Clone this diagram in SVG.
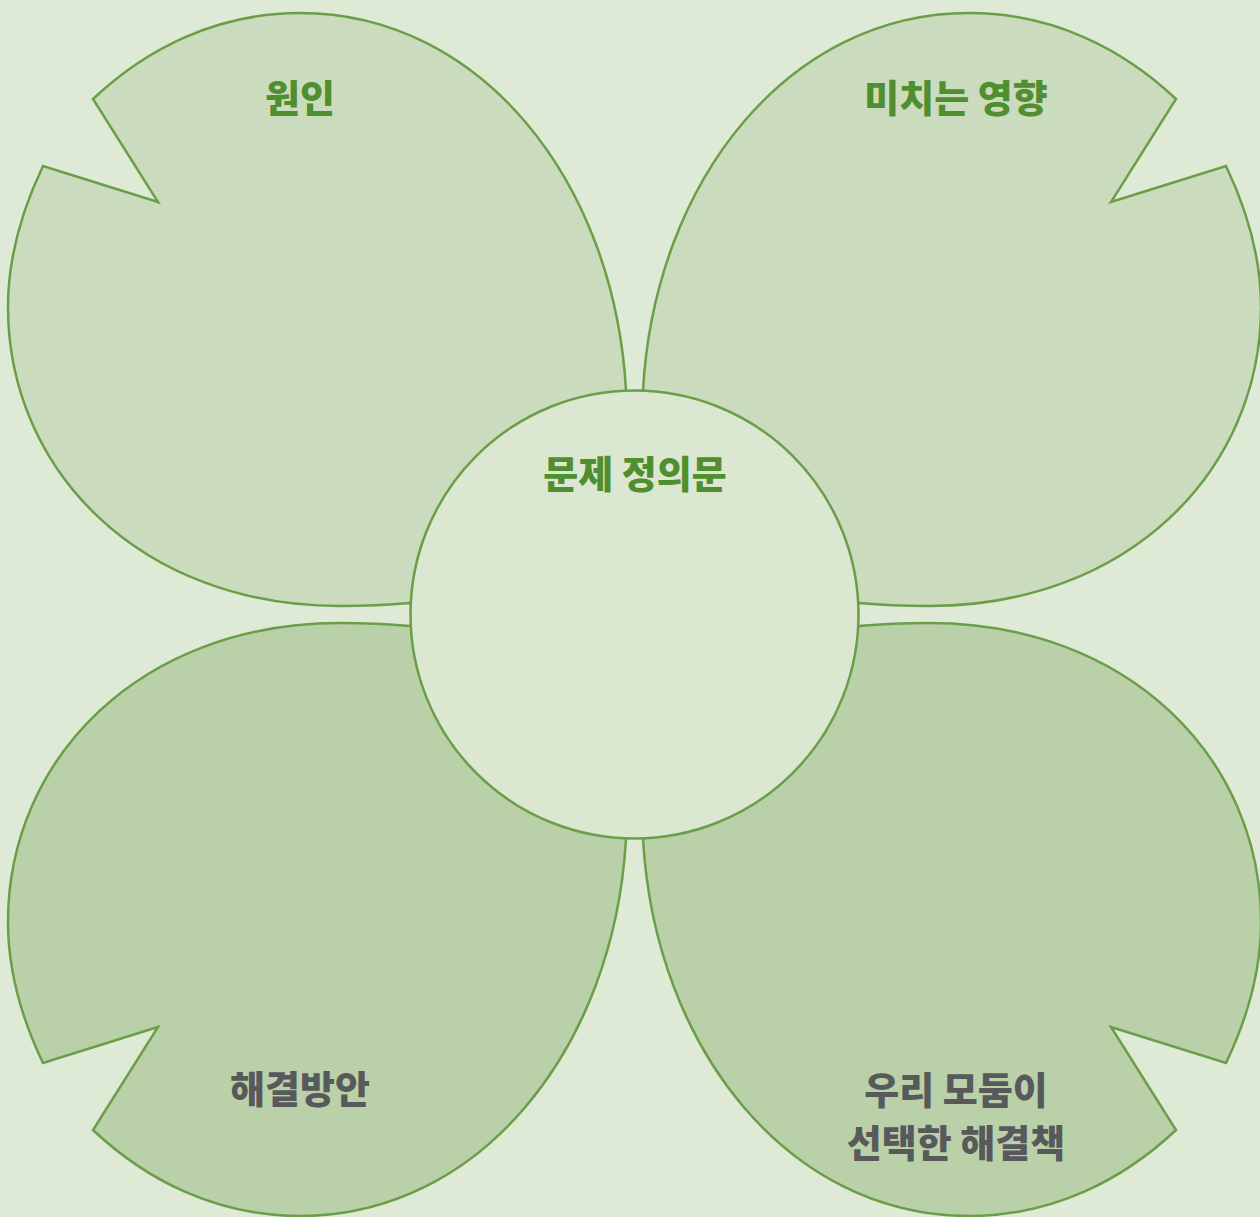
<svg xmlns="http://www.w3.org/2000/svg" width="1260" height="1217" viewBox="0 0 1260 1217">
<style>
.petal{stroke:#6a9e48;stroke-width:2.5;stroke-linejoin:miter}
.top{fill:#cbdcbe}
.bot{fill:#b9d0a9}
.t{font-family:"Noto Sans CJK KR","Noto Sans",sans-serif;font-weight:900;font-size:38px;text-anchor:middle}
.g{fill:#4f8f2f}
.d{fill:#58595b}
</style>
<defs>
<path id="petal" d="M 626,390 C 614,180 480,13 300,13 C 215,13 145,50 93,99 L 158,202 L 43,166 C 22,210 8,258 8,307 C 8,470 140,606 340,606 C 365,606 388,605 410,603 L 634,614 Z"/>
</defs>
<rect width="1260" height="1217" fill="#dfead6"/>
<g id="node-cause">
<use href="#petal" class="petal top"/>
<text class="t g" x="300" y="112">원인</text>
</g>
<g id="node-impact">
<use href="#petal" class="petal top" transform="translate(1269,0) scale(-1,1)"/>
<text class="t g" x="956" y="112">미치는 영향</text>
</g>
<g id="node-solution">
<use href="#petal" class="petal bot" transform="translate(0,1229) scale(1,-1)"/>
<text class="t d" x="300" y="1103">해결방안</text>
</g>
<g id="node-chosen">
<use href="#petal" class="petal bot" transform="translate(1269,1229) scale(-1,-1)"/>
<text class="t d" x="956" y="1104">우리 모둠이</text>
<text class="t d" x="956" y="1157">선택한 해결책</text>
</g>
<g id="node-problem">
<circle cx="634.5" cy="614.5" r="224" fill="#dbe7d1" stroke="#6a9e48" stroke-width="2.5"/>
<text class="t g" x="635" y="488">문제 정의문</text>
</g>
<g id="connectors"></g>
</svg>
